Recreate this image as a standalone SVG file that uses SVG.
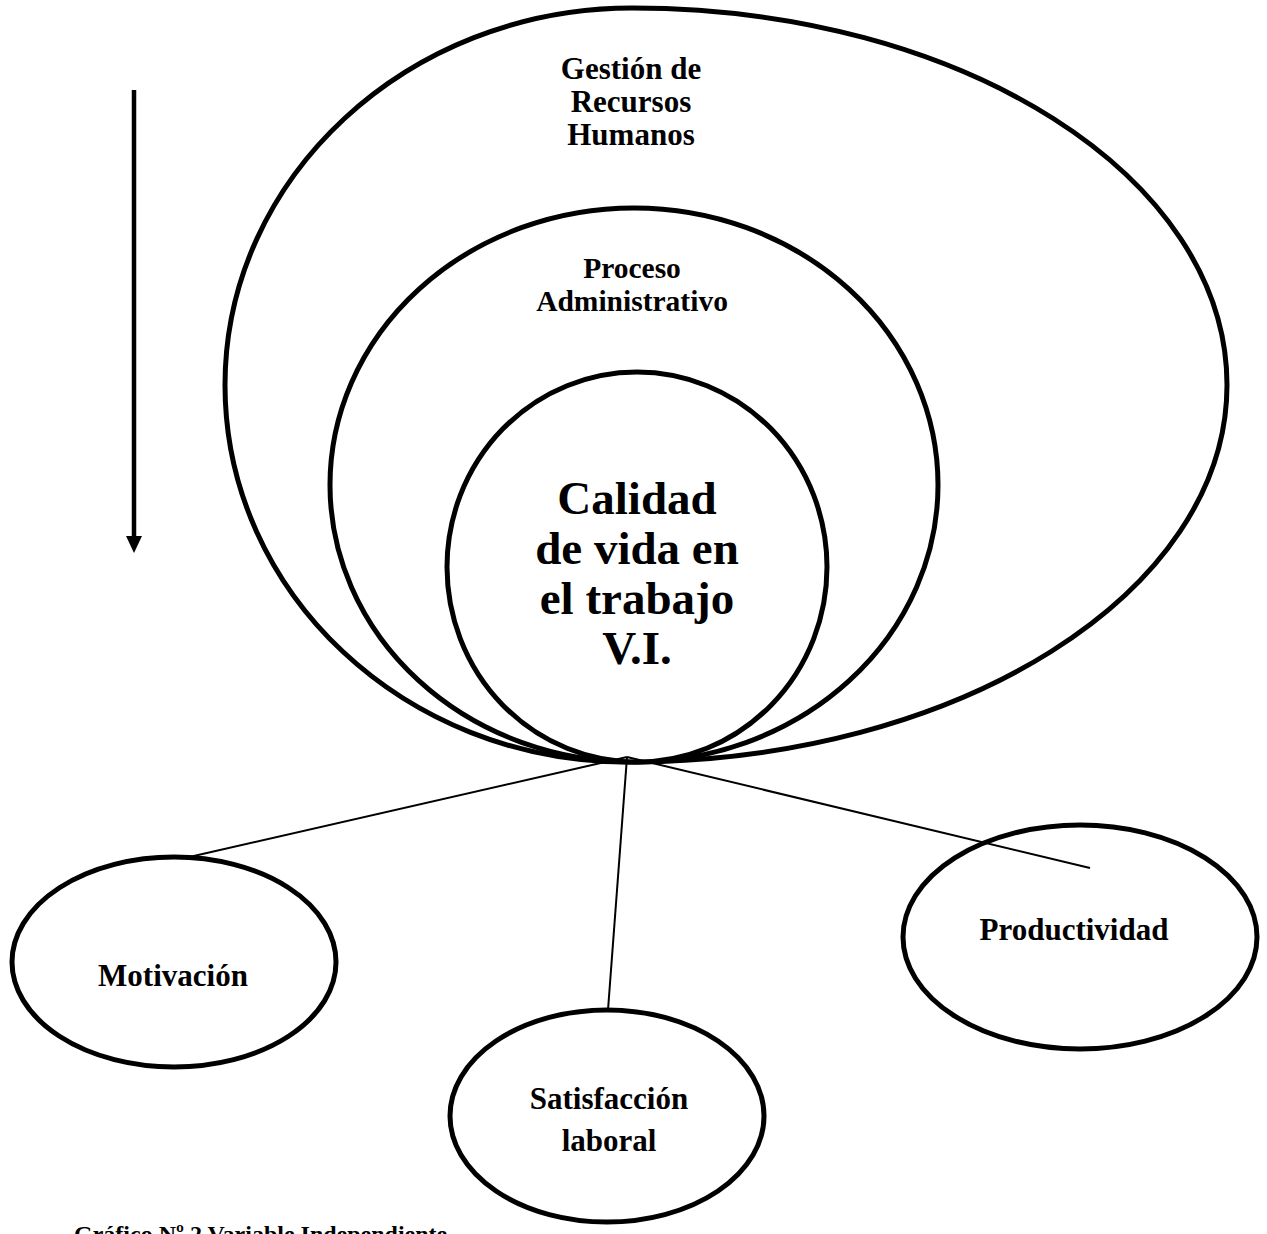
<svg xmlns="http://www.w3.org/2000/svg" width="1267" height="1234" viewBox="0 0 1267 1234">
<style>
  .shape { fill: #ffffff; stroke: #000000; stroke-width: 5; }
  .conn { stroke: #000000; stroke-width: 2; fill: none; }
  text { font-family: "Liberation Serif", "Times New Roman", serif; font-weight: bold; fill: #000000; text-anchor: middle; }
</style>
<rect width="1267" height="1234" fill="#ffffff"/>
<g id="arrow">
  <line x1="134" y1="90" x2="134" y2="536" stroke="#000000" stroke-width="4.5"/>
  <path d="M126,536 L142,536 L134,553 Z" fill="#000000"/>
</g>
<g id="gestion">
  <path class="shape" d="M632,8 C962,8 1227,177 1227,385 C1227,593 958,762 627,762 C405,762 225,593 225,385 C225,177 408,8 632,8 Z"/>
  <text font-size="31"><tspan x="631" y="79">Gestión de</tspan><tspan x="631" y="112">Recursos</tspan><tspan x="631" y="145">Humanos</tspan></text>
</g>
<g id="proceso">
  <ellipse class="shape" cx="634" cy="485" rx="304" ry="277"/>
  <text font-size="29.5"><tspan x="632" y="278">Proceso</tspan><tspan x="632" y="311">Administrativo</tspan></text>
</g>
<g id="calidad">
  <ellipse class="shape" cx="637" cy="567" rx="190" ry="195"/>
  <text font-size="47"><tspan x="637" y="514">Calidad</tspan><tspan x="637" y="564">de vida en</tspan><tspan x="637" y="614">el trabajo</tspan><tspan x="637" y="664">V.I.</tspan></text>
</g>
<g id="caption">
  <text font-size="24" x="74" y="1242" style="text-anchor:start">Gráfico Nº 2 Variable Independiente</text>
</g>
<g id="motivacion">
  <ellipse class="shape" cx="174" cy="962" rx="162" ry="105"/>
  <text font-size="31" x="173" y="986">Motivación</text>
</g>
<g id="satisfaccion">
  <ellipse class="shape" cx="607" cy="1116" rx="157" ry="106"/>
  <text font-size="31"><tspan x="609" y="1109">Satisfacción</tspan><tspan x="609" y="1151">laboral</tspan></text>
</g>
<g id="productividad">
  <ellipse class="shape" cx="1080" cy="937" rx="177" ry="112"/>
  <text font-size="31" x="1074" y="940">Productividad</text>
</g>
<g id="connectors">
  <line class="conn" x1="627" y1="757" x2="185" y2="858"/>
  <line class="conn" x1="627" y1="757" x2="608" y2="1010"/>
  <line class="conn" x1="627" y1="757" x2="1090" y2="868"/>
</g>
</svg>
